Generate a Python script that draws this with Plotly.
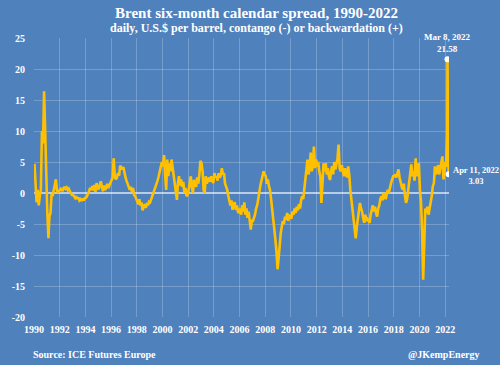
import pandas as pd
import plotly.graph_objects as go

# Monthly readings of the Brent six-month spread (US$/bbl), estimated from the chart
spread_1990s = [
    4.7, 1.0, -1.5, 0.5, -2.0, -0.5, 0.5, 10.0, 8.0, 16.4, 9.0, 3.2,      # 1990
    -3.2, -7.3, -3.8, -3.2, -0.2, -0.5, 0.5, 1.6, 2.2, 0.5, 0.0, 0.3,     # 1991
    0.5, 0.8, 0.3, 0.6, 1.0, 0.7, 0.9, 0.5, 0.7, 0.3, 0.0, -0.3,          # 1992
    -0.3, -0.5, -0.8, -0.5, -1.0, -0.7, -1.2, -1.0, -1.3, -0.9, -1.2, -0.8,  # 1993
    -0.8, -0.5, -0.2, 0.3, 0.8, 0.5, 1.1, 0.4, 1.3, 0.2, 1.6, 0.8,        # 1994
    0.6, 1.4, 1.9, 1.0, 0.3, 1.2, 0.5, 0.8, 1.5, 0.8, 1.3, 1.7,           # 1995
    2.0, 2.5, 5.6, 2.7, 2.2, 2.5, 3.2, 2.8, 4.4, 4.0, 3.8, 4.2,           # 1996
    3.2, 2.5, 2.0, 1.5, 1.0, 0.5, 1.0, 0.2, 0.8, -0.3, -0.5, -1.0,        # 1997
    -1.2, -1.8, -1.0, -2.0, -1.5, -2.8, -2.2, -1.8, -2.4, -1.6, -2.0, -1.4,  # 1998
    -1.5, -1.0, -0.8, -0.3, 0.2, 0.8, 1.5, 2.0, 2.7, 3.5, 4.2, 5.0,       # 1999
]
spread_2000s = [
    4.3, 6.1, 3.0, 0.5, 5.4, 2.7, 4.8, 3.5, 5.4, 4.0, 2.5, 1.0,           # 2000
    0.5, -1.1, 1.6, 2.7, 1.2, 2.2, 1.0, 1.8, 0.0, 0.8, -0.5, -0.3,        # 2001
    0.5, 1.6, 2.7, 1.0, 0.0, 2.1, 1.6, 1.0, 2.5, 1.5, 3.0, 5.2,           # 2002
    4.8, 3.5, 0.5, 0.0, 2.7, 1.5, 2.1, 2.5, 1.8, 2.7, 2.0, 1.6,           # 2003
    3.2, 2.5, 2.7, 2.0, 3.2, 2.5, 2.8, 4.0, 3.0, 3.2, 1.5, 1.0,           # 2004
    0.5, -0.5, -1.1, -2.0, -1.2, -2.7, -1.8, -1.5, -2.7, -2.0, -3.0, -3.2,  # 2005
    -2.5, -3.5, -2.0, -3.0, -1.5, -3.5, -2.5, -4.0, -3.0, -4.5, -5.9, -4.5,  # 2006
    -4.5, -4.0, -3.5, -2.5, -2.0, -1.0, 0.5, 1.2, 2.0, 2.7, 3.5, 3.0,     # 2007
    2.7, 1.5, 2.2, 1.1, 0.5, -1.0, -2.5, -3.8, -5.4, -7.5, -9.5, -12.3,   # 2008
    -10.5, -8.0, -6.5, -5.4, -4.5, -5.0, -3.8, -4.3, -3.2, -4.5, -3.5, -4.0,  # 2009
]
spread_2010s = [
    -4.0, -3.0, -3.5, -2.5, -3.2, -2.2, -2.8, -1.8, -2.5, -1.2, -0.5, -1.0,  # 2010
    0.5, 2.0, 3.2, 5.4, 3.0, 4.0, 6.5, 3.5, 4.5, 7.5, 4.0, 5.4,           # 2011
    4.3, 5.0, 3.5, 2.7, -1.6, 2.0, 4.8, 3.5, 4.8, 3.0, 4.0, 2.7,          # 2012
    2.1, 3.5, 4.3, 3.0, 5.0, 3.8, 4.5, 5.5, 7.8, 4.0, 3.5, 4.5,           # 2013
    3.5, 2.7, 4.0, 3.2, 2.5, 4.3, 3.0, 0.5, -1.0, -2.5, -3.5, -4.8,       # 2014
    -7.3, -5.5, -4.0, -3.0, -1.6, -2.5, -3.0, -4.0, -4.8, -3.5, -4.5, -4.2,  # 2015
    -4.5, -4.8, -3.5, -2.5, -2.0, -3.0, -2.2, -3.2, -3.8, -2.5, -2.0, -1.0,  # 2016
    -0.5, -1.2, 0.0, -0.5, -1.0, -0.2, 0.5, 0.0, 1.0, 1.6, 2.2, 2.7,      # 2017
    2.7, 3.0, 2.5, 3.5, 3.8, 2.5, 1.6, 1.0, 0.5, 1.5, -0.5, -1.6,         # 2018
    -1.0, 0.5, 1.6, 3.5, 4.6, 2.7, 3.5, 2.0, 5.6, 2.7, 3.5, 4.8,          # 2019
]
spread_2020_2021 = [
    0.5, -1.5, -6.0, -14.0, -8.5, -2.5, -3.2, -2.2, -3.5, -2.5, -2.0, -0.5,  # 2020
    1.1, 1.6, 4.3, 3.0, 3.5, 4.5, 3.0, 3.8, 4.8, 5.9, 2.2, 3.5,           # 2021
]
dates_2022 = ["2022-01-10", "2022-01-25", "2022-02-08", "2022-02-22", "2022-03-02",
              "2022-03-08", "2022-03-11", "2022-03-17", "2022-03-24", "2022-04-01", "2022-04-11"]
spread_2022 = [5.0, 4.2, 6.5, 7.0, 10.0, 21.58, 12.0, 7.0, 8.5, 5.0, 3.03]

x_ticks = [str(y) for y in range(1990, 2023, 2)]
y_ticks = [-20, -15, -10, -5, 0, 5, 10, 15, 20, 25]

monthly_vals = spread_1990s + spread_2000s + spread_2010s + spread_2020_2021
monthly_dates = pd.date_range("1990-01-01", periods=len(monthly_vals), freq="MS") + pd.Timedelta(days=14)
dates = list(monthly_dates.strftime("%Y-%m-%d")) + dates_2022
vals = monthly_vals + spread_2022

BG = "#4F81BD"
GOLD = "#FFC000"
FONT = "Liberation Serif"

fig = go.Figure()
fig.add_trace(go.Scatter(x=dates, y=vals, mode="lines",
                         line=dict(color=GOLD, width=2.6), hoverinfo="skip"))
fig.add_trace(go.Scatter(x=["2022-03-08", "2022-04-11"], y=[21.58, 3.03], mode="markers",
                         marker=dict(color="white", size=6), hoverinfo="skip"))

fig.update_layout(
    width=500, height=365,
    paper_bgcolor=BG, plot_bgcolor=BG,
    margin=dict(l=21, r=51, t=38, b=48),
    showlegend=False,
    font=dict(family=FONT, color="white", size=10),
)
fig.update_xaxes(
    type="date", range=["1990-01-01", "2022-04-20"],
    tickvals=[f"{y}-01-01" for y in x_ticks], ticktext=[f"<b>{t}</b>" for t in x_ticks],
    showgrid=True, gridcolor="rgba(255,255,255,0.22)", gridwidth=1,
    zeroline=False, showline=False, ticks="", ticklabelstandoff=5,
    tickfont=dict(size=10, family=FONT, color="white"),
)
fig.update_yaxes(
    range=[-20, 25], tickvals=y_ticks, ticktext=[f"<b>{v}</b>" for v in y_ticks],
    showgrid=True, gridcolor="rgba(255,255,255,0.22)", gridwidth=1,
    zeroline=True, zerolinecolor="rgba(255,255,255,0.6)", zerolinewidth=1.5,
    showline=False, ticks="", ticklabelstandoff=8,
    tickfont=dict(size=10, family=FONT, color="white"),
)

# title and subtitle
fig.add_annotation(xref="paper", yref="paper", x=0.535, y=1.0896, xanchor="center", yanchor="middle",
                   text="<b>Brent six-month calendar spread, 1990-2022</b>", showarrow=False,
                   font=dict(size=15, family=FONT, color="white"))
fig.add_annotation(xref="paper", yref="paper", x=0.535, y=1.036, xanchor="center", yanchor="middle",
                   text="<b>daily, U.S.$ per barrel, contango (-) or backwardation (+)</b>", showarrow=False,
                   font=dict(size=12, family=FONT, color="white"))

fig.add_annotation(x="2022-03-08", y=21.58, text="<b>Mar 8, 2022<br>21.58</b>",
                   showarrow=False, yanchor="bottom", yshift=3,
                   font=dict(size=9, family=FONT, color="white"))
fig.add_annotation(x="2022-04-11", y=3.03, text="<b>Apr 11, 2022<br>3.03</b>",
                   showarrow=False, xanchor="left", xshift=2, yanchor="middle", yshift=-1,
                   align="center", font=dict(size=8.5, family=FONT, color="white"))
fig.add_annotation(xref="paper", yref="paper", x=-0.007, y=-0.136, xanchor="left", yanchor="middle",
                   text="<b>Source: ICE Futures Europe</b>", showarrow=False,
                   font=dict(size=10, family=FONT, color="white"))
fig.add_annotation(xref="paper", yref="paper", x=1.079, y=-0.136, xanchor="right", yanchor="middle",
                   text="<b>@JKempEnergy</b>", showarrow=False,
                   font=dict(size=10, family=FONT, color="white"))

fig.write_html("out.html", config={"displayModeBar": False},
               post_script="document.body.style.margin='0';document.body.style.background='#4F81BD';")
